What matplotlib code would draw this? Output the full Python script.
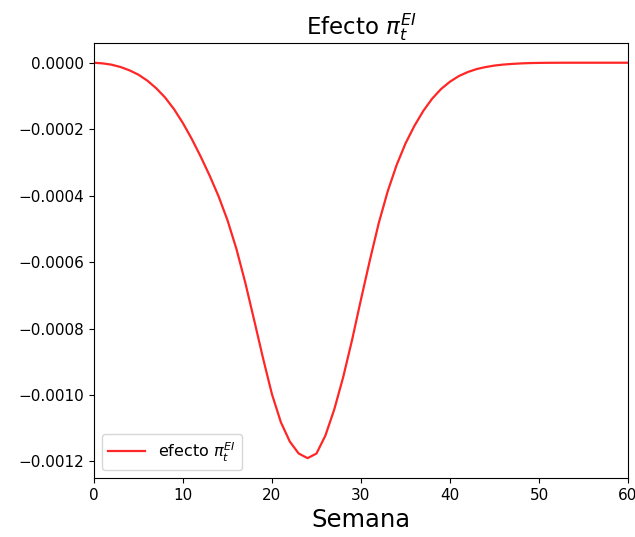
import numpy as np
import matplotlib.pyplot as plt

# Weeks and effect values
semana = np.arange(0, 61)
efecto = [0.0, -2e-6, -6e-6, -1.3e-5, -2.3e-5, -3.6e-5, -5.4e-5, -7.7e-5, -0.000105, -0.00014,
          -0.000182, -0.00023, -0.000283, -0.00034, -0.000402, -0.000474, -0.00056, -0.000662, -0.000775, -0.00089,
          -0.000998, -0.001082, -0.00114, -0.001176, -0.00119, -0.001176, -0.001122, -0.001043, -0.000946, -0.000834,
          -0.000712, -0.000594, -0.000482, -0.000387, -0.000308, -0.000243, -0.00019, -0.000145, -0.000108, -7.9e-5,
          -5.7e-5, -4.0e-5, -2.8e-5, -1.9e-5, -1.3e-5, -8.5e-6, -5.5e-6, -3.5e-6, -2e-6, -1e-6,
          -5e-7, -2e-7, -1e-7, 0.0, 0.0, 0.0, 0.0, 0.0, 0.0, 0.0, 0.0]

fig = plt.figure(figsize=(6.35, 5.37), dpi=100)
ax = fig.add_axes([0.148, 0.11, 0.841, 0.81])
ax.plot(semana, efecto, color='red', alpha=0.85, linewidth=1.6, label=r'efecto $\pi_t^{EI}$')
ax.set_xlim(0, 60)
ax.set_title(r'Efecto $\pi_t^{EI}$', fontsize=16.5)
ax.set_xlabel('Semana', fontsize=17.5)
ax.tick_params(labelsize=11)
ax.legend(loc='lower left', fontsize=11.5, handlelength=2.3)

fig.savefig('out.png', dpi=100)
